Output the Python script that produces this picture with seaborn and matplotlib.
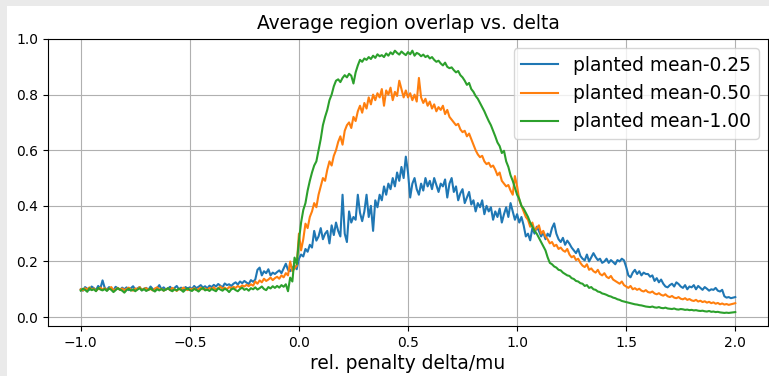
import numpy as np
import pandas as pd
import matplotlib
matplotlib.use("Agg")
import matplotlib.pyplot as plt
from matplotlib.patches import Rectangle
import seaborn as sns

# relative penalty grid: -1.00 .. 2.00 in steps of 0.01
delta = np.round(np.arange(-100, 201) / 100.0, 2)

overlap_025 = [
    0.100, 0.095, 0.108, 0.102, 0.098, 0.110, 0.104, 0.097, 0.112, 0.103,
    0.132, 0.105, 0.099, 0.108, 0.101, 0.096, 0.109, 0.103, 0.098, 0.106,
    0.100, 0.107, 0.097, 0.104, 0.111, 0.099, 0.103, 0.108, 0.096, 0.102,
    0.105, 0.098, 0.110, 0.101, 0.096, 0.104, 0.115, 0.100, 0.107, 0.099,
    0.103, 0.109, 0.097, 0.105, 0.112, 0.100, 0.106, 0.098, 0.108, 0.103,
    0.107, 0.101, 0.112, 0.104, 0.109, 0.115, 0.106, 0.111, 0.103, 0.113,
    0.108, 0.116, 0.110, 0.119, 0.113, 0.107, 0.121, 0.115, 0.118, 0.112,
    0.120, 0.125, 0.117, 0.128, 0.122, 0.130, 0.124, 0.119, 0.133, 0.127,
    0.135, 0.170, 0.178, 0.150, 0.165, 0.158, 0.172, 0.150, 0.160, 0.155,
    0.162, 0.168, 0.158, 0.175, 0.192, 0.170, 0.165, 0.178, 0.185, 0.172,
    0.210, 0.225, 0.218, 0.245, 0.235, 0.260, 0.250, 0.310, 0.275, 0.290,
    0.320, 0.280, 0.300, 0.310, 0.265, 0.330, 0.295, 0.340, 0.310, 0.290,
    0.440, 0.300, 0.270, 0.380, 0.340, 0.360, 0.350, 0.440, 0.375, 0.345,
    0.380, 0.440, 0.360, 0.400, 0.310, 0.420, 0.395, 0.440, 0.420, 0.470,
    0.440, 0.480, 0.460, 0.500, 0.470, 0.520, 0.490, 0.540, 0.500, 0.577,
    0.520, 0.430, 0.480, 0.500, 0.460, 0.440, 0.480, 0.455, 0.500, 0.470,
    0.490, 0.460, 0.500, 0.475, 0.450, 0.480, 0.470, 0.495, 0.430, 0.480,
    0.500, 0.450, 0.470, 0.420, 0.445, 0.460, 0.410, 0.430, 0.450, 0.405,
    0.420, 0.380, 0.410, 0.395, 0.420, 0.370, 0.400, 0.380, 0.395, 0.350,
    0.380, 0.360, 0.390, 0.340, 0.370, 0.395, 0.360, 0.410, 0.380, 0.350,
    0.370, 0.340, 0.360, 0.330, 0.290, 0.300, 0.276, 0.320, 0.300, 0.325,
    0.310, 0.290, 0.305, 0.280, 0.300, 0.290, 0.320, 0.337, 0.300, 0.280,
    0.270, 0.285, 0.260, 0.275, 0.264, 0.250, 0.240, 0.230, 0.245, 0.220,
    0.210, 0.204, 0.225, 0.200, 0.215, 0.230, 0.216, 0.205, 0.210, 0.195,
    0.200, 0.210, 0.195, 0.205, 0.198, 0.190, 0.205, 0.200, 0.210, 0.204,
    0.180, 0.150, 0.143, 0.160, 0.170, 0.155, 0.165, 0.150, 0.160, 0.155,
    0.155, 0.145, 0.150, 0.130, 0.140, 0.125, 0.135, 0.120, 0.110, 0.107,
    0.115, 0.120, 0.110, 0.125, 0.119, 0.110, 0.105, 0.115, 0.100, 0.110,
    0.107, 0.115, 0.100, 0.112, 0.105, 0.098, 0.108, 0.102, 0.095, 0.100,
    0.098, 0.105, 0.095, 0.092, 0.098, 0.075, 0.070, 0.072, 0.068, 0.070, 0.072,
]

overlap_050 = [
    0.100, 0.096, 0.104, 0.099, 0.107, 0.098, 0.103, 0.095, 0.101, 0.106,
    0.099, 0.104, 0.097, 0.102, 0.108, 0.096, 0.100, 0.105, 0.098, 0.103,
    0.097, 0.101, 0.106, 0.099, 0.095, 0.103, 0.100, 0.108, 0.097, 0.102,
    0.104, 0.098, 0.101, 0.096, 0.103, 0.107, 0.099, 0.102, 0.095, 0.100,
    0.103, 0.097, 0.105, 0.100, 0.094, 0.102, 0.098, 0.106, 0.101, 0.097,
    0.102, 0.099, 0.104, 0.097, 0.101, 0.106, 0.100, 0.103, 0.098, 0.105,
    0.101, 0.107, 0.099, 0.104, 0.110, 0.102, 0.106, 0.100, 0.108, 0.104,
    0.109, 0.105, 0.112, 0.107, 0.114, 0.110, 0.116, 0.111, 0.118, 0.113,
    0.128, 0.120, 0.132, 0.125, 0.138, 0.130, 0.135, 0.142, 0.133, 0.140,
    0.145, 0.138, 0.150, 0.143, 0.158, 0.150, 0.200, 0.165, 0.175, 0.185,
    0.300, 0.240, 0.280, 0.336, 0.320, 0.360, 0.380, 0.410, 0.395, 0.440,
    0.470, 0.500, 0.490, 0.530, 0.560, 0.545, 0.580, 0.600, 0.630, 0.650,
    0.620, 0.670, 0.690, 0.700, 0.680, 0.720, 0.705, 0.740, 0.760, 0.735,
    0.770, 0.750, 0.790, 0.765, 0.800, 0.780, 0.805, 0.790, 0.820, 0.760,
    0.815, 0.800, 0.825, 0.780, 0.810, 0.795, 0.850, 0.820, 0.790, 0.815,
    0.790, 0.805, 0.780, 0.800, 0.775, 0.860, 0.790, 0.770, 0.785, 0.760,
    0.775, 0.750, 0.765, 0.740, 0.755, 0.745, 0.760, 0.730, 0.745, 0.720,
    0.710, 0.700, 0.690, 0.695, 0.675, 0.665, 0.670, 0.650, 0.660, 0.640,
    0.620, 0.600, 0.585, 0.575, 0.580, 0.560, 0.550, 0.555, 0.540, 0.545,
    0.530, 0.510, 0.520, 0.490, 0.480, 0.470, 0.475, 0.455, 0.440, 0.507,
    0.470, 0.420, 0.400, 0.380, 0.360, 0.350, 0.325, 0.340, 0.310, 0.320,
    0.330, 0.300, 0.310, 0.290, 0.280, 0.265, 0.270, 0.255, 0.260, 0.245,
    0.250, 0.240, 0.235, 0.245, 0.225, 0.215, 0.220, 0.205, 0.210, 0.195,
    0.185, 0.180, 0.190, 0.170, 0.175, 0.165, 0.160, 0.170, 0.155, 0.150,
    0.158, 0.145, 0.140, 0.148, 0.135, 0.130, 0.125, 0.120, 0.128, 0.115,
    0.110, 0.105, 0.112, 0.100, 0.104, 0.098, 0.102, 0.095, 0.092, 0.097,
    0.090, 0.088, 0.092, 0.085, 0.082, 0.086, 0.080, 0.077, 0.082, 0.075,
    0.072, 0.076, 0.070, 0.068, 0.072, 0.066, 0.064, 0.068, 0.062, 0.065,
    0.060, 0.058, 0.062, 0.056, 0.059, 0.054, 0.057, 0.052, 0.055, 0.050,
    0.053, 0.048, 0.051, 0.046, 0.049, 0.045, 0.047, 0.044, 0.046, 0.048, 0.050,
]

overlap_100 = [
    0.095, 0.102, 0.098, 0.091, 0.104, 0.097, 0.100, 0.093, 0.105, 0.099,
    0.096, 0.101, 0.094, 0.103, 0.098, 0.090, 0.097, 0.104, 0.099, 0.095,
    0.088, 0.097, 0.102, 0.095, 0.100, 0.093, 0.099, 0.104, 0.096, 0.101,
    0.094, 0.098, 0.103, 0.097, 0.092, 0.100, 0.096, 0.101, 0.095, 0.099,
    0.104, 0.097, 0.093, 0.100, 0.096, 0.102, 0.098, 0.091, 0.099, 0.103,
    0.097, 0.094, 0.101, 0.098, 0.092, 0.100, 0.105, 0.096, 0.099, 0.094,
    0.101, 0.097, 0.093, 0.104, 0.099, 0.095, 0.102, 0.098, 0.090, 0.100,
    0.103, 0.097, 0.093, 0.101, 0.106, 0.098, 0.102, 0.095, 0.104, 0.100,
    0.107, 0.099, 0.104, 0.110, 0.101, 0.097, 0.108, 0.103, 0.111, 0.105,
    0.112, 0.106, 0.115, 0.109, 0.118, 0.093, 0.142, 0.128, 0.214, 0.190,
    0.275, 0.340, 0.385, 0.410, 0.455, 0.490, 0.520, 0.545, 0.560, 0.600,
    0.640, 0.690, 0.720, 0.745, 0.780, 0.800, 0.830, 0.850, 0.855, 0.845,
    0.860, 0.870, 0.862, 0.875, 0.868, 0.840, 0.880, 0.905, 0.925, 0.918,
    0.930, 0.925, 0.935, 0.928, 0.940, 0.932, 0.945, 0.938, 0.942, 0.935,
    0.948, 0.940, 0.952, 0.945, 0.958, 0.950, 0.944, 0.955, 0.948, 0.942,
    0.953, 0.945, 0.958, 0.940, 0.950, 0.946, 0.938, 0.944, 0.935, 0.940,
    0.930, 0.935, 0.925, 0.918, 0.922, 0.912, 0.905, 0.915, 0.900, 0.895,
    0.898, 0.888, 0.880, 0.885, 0.870, 0.862, 0.850, 0.835, 0.842, 0.820,
    0.810, 0.795, 0.785, 0.770, 0.755, 0.740, 0.722, 0.705, 0.690, 0.670,
    0.650, 0.628, 0.615, 0.590, 0.598, 0.560, 0.540, 0.510, 0.490, 0.465,
    0.440, 0.425, 0.400, 0.390, 0.375, 0.360, 0.340, 0.325, 0.310, 0.300,
    0.285, 0.270, 0.255, 0.240, 0.215, 0.195, 0.190, 0.182, 0.178, 0.170,
    0.168, 0.160, 0.155, 0.150, 0.148, 0.140, 0.137, 0.130, 0.128, 0.122,
    0.120, 0.112, 0.115, 0.105, 0.108, 0.100, 0.098, 0.092, 0.090, 0.085,
    0.083, 0.080, 0.076, 0.074, 0.070, 0.068, 0.064, 0.062, 0.058, 0.056,
    0.054, 0.052, 0.050, 0.048, 0.046, 0.045, 0.043, 0.042, 0.040, 0.038,
    0.037, 0.036, 0.038, 0.035, 0.034, 0.036, 0.033, 0.032, 0.034, 0.031,
    0.030, 0.029, 0.031, 0.028, 0.027, 0.029, 0.028, 0.026, 0.027, 0.025,
    0.026, 0.024, 0.025, 0.023, 0.022, 0.023, 0.021, 0.020, 0.022, 0.019,
    0.020, 0.018, 0.019, 0.017, 0.016, 0.015, 0.016, 0.015, 0.016, 0.017, 0.018,
]

series_labels = ["planted mean-0.25", "planted mean-0.50", "planted mean-1.00"]
series_values = [overlap_025, overlap_050, overlap_100]

frame = pd.concat(
    [pd.DataFrame({"delta": delta, "overlap": vals, "series": name})
     for name, vals in zip(series_labels, series_values)],
    ignore_index=True,
)

plt.rcParams["font.family"] = ["DejaVu Sans"]

fig = plt.figure(figsize=(7.69, 3.76), dpi=100)
fig.patch.set_facecolor("#eaeaea")
# white canvas with a thin grey margin along the left and top edges
fig.patches.append(Rectangle((7 / 769, 0), 1, 1 - 6 / 376,
                             transform=fig.transFigure, facecolor="white",
                             edgecolor="none", zorder=-10))

ax = fig.add_axes([48 / 769, 1 - 326 / 376, 720 / 769, 287 / 376])
sns.lineplot(data=frame, x="delta", y="overlap", hue="series",
             palette=["#1f77b4", "#ff7f0e", "#2ca02c"], linewidth=1.5,
             estimator=None, ax=ax)

ax.set_xlim(-1.15, 2.15)
ax.set_ylim(-0.032, 1.0)
ax.set_xticks([-1.0, -0.5, 0.0, 0.5, 1.0, 1.5, 2.0])
ax.set_yticks([0.0, 0.2, 0.4, 0.6, 0.8, 1.0])
ax.grid(True, color="#b0b0b0", linewidth=0.8)
ax.tick_params(labelsize=10)
ax.set_title("Average region overlap vs. delta", fontsize=13.4, pad=7)
ax.set_xlabel("rel. penalty delta/mu", fontsize=13.4, labelpad=3)
ax.set_ylabel("")
ax.legend(loc="upper right", fontsize=13.4, title=None)

fig.savefig("out.png", dpi=100, facecolor=fig.get_facecolor())
